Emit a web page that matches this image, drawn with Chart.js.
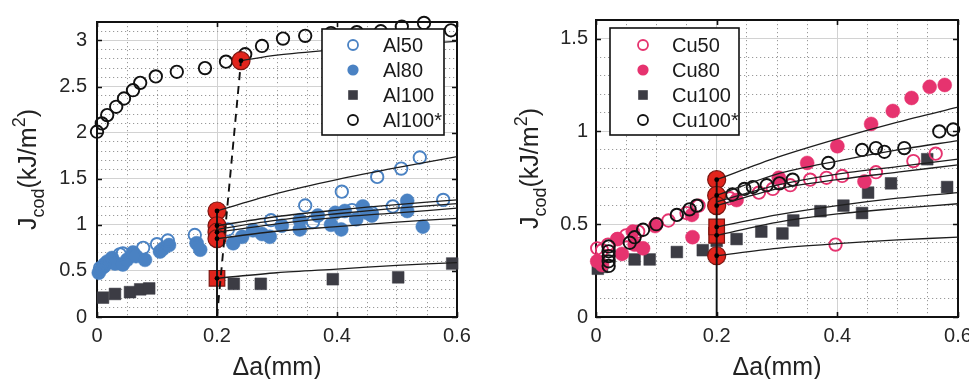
<!DOCTYPE html>
<html><head><meta charset="utf-8">
<script src="https://cdn.jsdelivr.net/npm/chart.js@4.4.1/dist/chart.umd.min.js"></script>
<style>
html,body{margin:0;padding:0;background:#fff;overflow:hidden;width:969px;height:379px;position:relative;}
#wrapL{position:absolute;left:0;top:0;width:484px;height:379px;}
#wrapR{position:absolute;left:484px;top:0;width:500px;height:379px;}
canvas{display:block;}
</style></head><body>
<div id="wrapL"><canvas id="cL" width="484" height="379"></canvas></div>
<div id="wrapR"><canvas id="cR" width="500" height="379"></canvas></div>
<script>
const F = '"Liberation Sans", Arial, Helvetica, sans-serif';

// ---------- tick labels ----------
const xTickValues = [0, 0.2, 0.4, 0.6];
const alYTickValues = [0, 0.5, 1, 1.5, 2, 2.5, 3];
const cuYTickValues = [0, 0.5, 1, 1.5];

// ---------- left panel (Al) ----------
const alLabels = ['Al50', 'Al80', 'Al100', 'Al100*'];
const al50X = [0.005,0.012,0.038,0.043,0.077,0.1,0.118,0.163,0.218,0.29,0.347,0.36,0.408,0.425,0.458,0.467,0.493,0.507,0.538,0.577];
const al50Y = [0.53,0.57,0.68,0.69,0.75,0.79,0.83,0.89,0.95,1.05,1.21,1.03,1.36,1.16,1.13,1.52,1.20,1.61,1.73,1.27];
const al80X = [0.003,0.008,0.012,0.017,0.022,0.025,0.03,0.043,0.05,0.06,0.065,0.08,0.105,0.11,0.12,0.166,0.172,0.227,0.242,0.26,0.275,0.288,0.308,0.338,0.338,0.368,0.39,0.397,0.407,0.413,0.432,0.443,0.45,0.458,0.517,0.517,0.543];
const al80Y = [0.48,0.53,0.55,0.60,0.60,0.64,0.58,0.57,0.62,0.70,0.66,0.62,0.71,0.74,0.78,0.80,0.73,0.80,0.87,0.94,0.90,0.87,0.99,1.05,0.95,1.10,1.00,1.13,0.95,1.15,1.06,1.20,1.13,1.10,1.26,1.15,0.98];
const al100X = [0.01,0.03,0.055,0.072,0.087,0.228,0.273,0.393,0.502,0.592];
const al100Y = [0.21,0.25,0.27,0.30,0.31,0.36,0.36,0.41,0.43,0.58];
const al100sX = [0,0.008,0.017,0.032,0.045,0.06,0.072,0.098,0.133,0.18,0.215,0.247,0.275,0.31,0.347,0.39,0.433,0.473,0.508,0.545,0.59];
const al100sY = [2.01,2.10,2.19,2.28,2.37,2.46,2.54,2.61,2.66,2.70,2.77,2.85,2.94,3.02,3.05,3.08,3.09,3.10,3.15,3.19,3.11];
const alRedCircX = [0.2,0.2,0.2,0.2,0.24];
const alRedCircY = [1.15,0.99,0.92,0.85,2.78];
const alRedSqX = [0.2];
const alRedSqY = [0.42];
const fitX = [0.2,0.3,0.4,0.5,0.6];
const alFit1 = [1.15,1.34,1.49,1.62,1.74];
const alFit2 = [0.99,1.09,1.16,1.22,1.27];
const alFit3 = [0.95,1.05,1.12,1.18,1.23];
const alFit4 = [0.92,1.01,1.08,1.13,1.18];
const alFit5 = [0.85,0.93,0.98,1.03,1.07];
const alFit6 = [0.42,0.48,0.52,0.56,0.59];
const alStarFitX = [0.24,0.3,0.4,0.5,0.6];
const alStarFitY = [2.78,2.84,2.90,2.95,2.99];
const alDashX = [0.2,0.24];
const alDashY = [0,2.78];
const alVertX = [0.2,0.2];
const alVertY = [0,1.15];

// ---------- right panel (Cu) ----------
const cuLabels = ['Cu50', 'Cu80', 'Cu100', 'Cu100*'];
const cu50X = [0.002,0.01,0.02,0.035,0.05,0.07,0.1,0.12,0.15,0.17,0.222,0.27,0.293,0.322,0.355,0.382,0.408,0.397,0.464,0.526,0.563];
const cu50Y = [0.37,0.36,0.39,0.42,0.44,0.46,0.50,0.52,0.56,0.60,0.64,0.67,0.69,0.71,0.74,0.75,0.76,0.39,0.78,0.84,0.88];
const cu80X = [0.002,0.01,0.036,0.043,0.061,0.064,0.078,0.098,0.159,0.16,0.2,0.233,0.303,0.35,0.4,0.445,0.456,0.492,0.523,0.553,0.578];
const cu80Y = [0.30,0.28,0.42,0.34,0.46,0.39,0.37,0.49,0.55,0.43,0.60,0.63,0.75,0.83,0.92,0.73,1.04,1.11,1.18,1.24,1.25];
const cu100X = [0.003,0.005,0.01,0.064,0.089,0.134,0.177,0.2,0.233,0.274,0.309,0.327,0.372,0.41,0.441,0.451,0.489,0.549,0.582];
const cu100Y = [0.26,0.29,0.27,0.31,0.31,0.35,0.36,0.41,0.42,0.46,0.45,0.52,0.57,0.60,0.56,0.67,0.72,0.85,0.70];
const cu100sX = [0.021,0.021,0.021,0.021,0.021,0.056,0.064,0.078,0.1,0.134,0.155,0.167,0.226,0.246,0.26,0.283,0.304,0.326,0.385,0.441,0.464,0.478,0.511,0.569,0.592];
const cu100sY = [0.38,0.354,0.328,0.30,0.275,0.40,0.43,0.47,0.50,0.55,0.58,0.60,0.66,0.69,0.70,0.71,0.72,0.74,0.83,0.90,0.91,0.89,0.91,1.00,1.01];
const cuRedCircX = [0.2,0.2,0.2,0.2];
const cuRedCircY = [0.74,0.655,0.60,0.33];
const cuRedSqX = [0.2,0.2];
const cuRedSqY = [0.44,0.485];
const cuFit1 = [0.74,0.86,0.96,1.05,1.13];
const cuFit2 = [0.655,0.77,0.84,0.90,0.95];
const cuFit3 = [0.62,0.71,0.77,0.81,0.85];
const cuFit4 = [0.60,0.69,0.74,0.78,0.82];
const cuFit5 = [0.485,0.55,0.60,0.64,0.67];
const cuFit6 = [0.44,0.51,0.555,0.585,0.61];
const cuFit7 = [0.33,0.37,0.395,0.415,0.43];
const cuVertX = [0.2,0.2];
const cuVertY = [0,0.74];

// ---------- styles ----------
const BLUE = '#4a82c3', PINK = '#e6336f', DARK = '#3c3c44', RED = '#e2241c';

function pts(xs, ys){ return xs.map((x,i)=>({x:x, y:ys[i]})); }
function openCirc(label, xs, ys, color, order){
  return {label, data: pts(xs,ys), showLine:false, clip:false, order,
    pointStyle:'circle', pointRadius:6.2, pointBorderWidth:1.9,
    pointBackgroundColor:'rgba(255,255,255,0)', pointBorderColor:color, backgroundColor:'rgba(0,0,0,0)', borderColor:color};
}
function fillCirc(label, xs, ys, color, order){
  return {label, data: pts(xs,ys), showLine:false, clip:false, order,
    pointStyle:'circle', pointRadius:7, pointBorderWidth:0.5,
    pointBackgroundColor:color, pointBorderColor:color, backgroundColor:color, borderColor:color};
}
function squares(label, xs, ys, color, order){
  return {label, data: pts(xs,ys), showLine:false, clip:false, order,
    pointStyle:'rect', pointRadius:8.3, pointBorderWidth:0.5,
    pointBackgroundColor:color, pointBorderColor:color, backgroundColor:color, borderColor:color};
}
function redMarks(xs, ys, style, r){
  return {label:'', data: pts(xs,ys), showLine:false, clip:false, order:3,
    pointStyle:style, pointRadius:r, pointBorderWidth:1.2,
    pointBackgroundColor:RED, pointBorderColor:'#7a1510'};
}
function dots(xs, ys){
  return {label:'', data: pts(xs,ys), showLine:false, clip:false, order:1,
    pointStyle:'circle', pointRadius:2.4, pointBorderWidth:0,
    pointBackgroundColor:'#000', pointBorderColor:'#000'};
}
function fitLine(xs, ys, extra){
  return Object.assign({label:'', data: pts(xs,ys), showLine:true, pointRadius:0,
    borderColor:'#1e1e1e', borderWidth:1.3, fill:false, order:2, tension:0.3, clip:false}, extra||{});
}

// ---------- plugins ----------
const boxPlugin = {
  id:'boxTicks',
  beforeDatasetsDraw(chart){
    const {ctx, chartArea:ca} = chart;
    const xs = chart.scales.x, ys = chart.scales.y;
    ctx.save();
    ctx.strokeStyle = '#111'; ctx.lineWidth = 1.6;
    const L = 5;
    ctx.beginPath();
    xs.ticks.forEach(t=>{
      const p = Math.round(xs.getPixelForValue(t.value))+0.5;
      ctx.moveTo(p, ca.bottom); ctx.lineTo(p, ca.bottom-L);
      ctx.moveTo(p, ca.top); ctx.lineTo(p, ca.top+L);
    });
    ys.ticks.forEach(t=>{
      const p = Math.round(ys.getPixelForValue(t.value))+0.5;
      ctx.moveTo(ca.left, p); ctx.lineTo(ca.left+L, p);
      ctx.moveTo(ca.right, p); ctx.lineTo(ca.right-L, p);
    });
    ctx.stroke();
    ctx.lineWidth = 2;
    ctx.strokeRect(ca.left, ca.top, ca.right-ca.left, ca.bottom-ca.top);
    ctx.restore();
  }
};
const yTitlePlugin = {
  id:'yTitle',
  afterDraw(chart, args, o){
    const {ctx, chartArea:ca} = chart;
    const parts = [
      {t:'J', s:o.size, dy:0},
      {t:'cod', s:o.sub, dy:o.subDy},
      {t:'(kJ/m', s:o.size, dy:0},
      {t:'2', s:o.sub, dy:-o.supDy},
      {t:')', s:o.size, dy:0}
    ];
    ctx.save();
    ctx.translate(o.x, (ca.top+ca.bottom)/2 + (o.shift||0));
    ctx.rotate(-Math.PI/2);
    ctx.fillStyle = '#222'; ctx.textBaseline = 'alphabetic'; ctx.textAlign = 'left';
    let total = 0;
    parts.forEach(p=>{ ctx.font = p.s+'px '+F; p.w = ctx.measureText(p.t).width; total += p.w; });
    let x = -total/2;
    parts.forEach(p=>{ ctx.font = p.s+'px '+F; ctx.fillText(p.t, x, p.dy); x += p.w; });
    ctx.restore();
  }
};
const boxLegendPlugin = {
  id:'boxLegend',
  afterDraw(chart, args, o){
    const ctx = chart.ctx;
    ctx.save();
    ctx.fillStyle = '#fff';
    ctx.fillRect(o.left, o.top, o.width, o.height);
    ctx.strokeStyle = '#111'; ctx.lineWidth = 1.6;
    ctx.strokeRect(o.left, o.top, o.width, o.height);
    o.items.forEach((it, i)=>{
      const y = o.row0 + i*o.rowDy;
      const x = o.markerX;
      ctx.beginPath();
      if (it.kind === 'open'){
        ctx.arc(x, y, 5, 0, Math.PI*2);
        ctx.lineWidth = 1.8; ctx.strokeStyle = it.color; ctx.stroke();
      } else if (it.kind === 'fill'){
        ctx.arc(x, y, 5.6, 0, Math.PI*2);
        ctx.fillStyle = it.color; ctx.fill();
      } else {
        ctx.fillStyle = it.color; ctx.fillRect(x-4.8, y-4.8, 9.6, 9.6);
      }
      ctx.fillStyle = '#1a1a1a';
      ctx.font = o.fontSize+'px '+F;
      ctx.textBaseline = 'middle'; ctx.textAlign = 'left';
      ctx.fillText(it.label, o.textX, y+1);
    });
    ctx.restore();
  }
};

function makeChart(canvasId, p){
  const minorColorX = ctx => {
    const v = ctx.tick ? ctx.tick.value : 0;
    const r = v/0.2; return Math.abs(r-Math.round(r))<1e-6 ? 'rgba(0,0,0,0)' : '#999';
  };
  const minorColorY = ctx => {
    const v = ctx.tick ? ctx.tick.value : 0;
    const r = v/0.5; return Math.abs(r-Math.round(r))<1e-6 ? 'rgba(0,0,0,0)' : '#999';
  };
  return new Chart(document.getElementById(canvasId), {
    type:'scatter',
    data:{datasets:p.datasets},
    options:{
      responsive:false, animation:false, events:[],
      layout:{padding:{top:15, right:p.padRight, bottom:0, left:0}},
      plugins:{
        legend:{display:false}, tooltip:{enabled:false},
        yTitle:{x:p.yTitleX, size:25, sub:18, subDy:8, supDy:11},
        boxLegend:p.legend
      },
      scales:{
        x:{type:'linear', position:'bottom', min:0, max:0.6, bounds:'data',
          afterBuildTicks: s => { s.ticks = xTickValues.map(v=>({value:v})); },
          ticks:{padding:7, color:'#262626', font:{size:20, family:F}, maxRotation:0, autoSkip:false,
            callback: v => String(v)},
          grid:{color:'#d2d2d2', lineWidth:1, drawTicks:false},
          border:{display:false},
          title:{display:true, text:'Δa(mm)', color:'#222', font:{size:25, family:F}, padding:{top:0, bottom:-4}},
          afterFit: s => { s.height = 62; }
        },
        xm:{type:'linear', position:'bottom', min:0, max:0.6, bounds:'data',
          ticks:{display:false, stepSize:0.05},
          grid:{color:minorColorX, lineWidth:1, drawTicks:false},
          border:{display:false, dash:[1.2,2.8]},
          afterFit: s => { s.height = 0; }
        },
        y:{type:'linear', position:'left', min:0, max:p.yMax, bounds:'data',
          afterBuildTicks: s => { s.ticks = p.yTicks.map(v=>({value:v})); },
          ticks:{padding:p.yPad, color:'#262626', font:{size:20, family:F}, autoSkip:false,
            callback: v => String(v)},
          grid:{color:'#d2d2d2', lineWidth:1, drawTicks:false},
          border:{display:false},
          afterFit: s => { s.width = p.yWidth; }
        },
        ym:{type:'linear', position:'left', min:0, max:p.yMax, bounds:'data',
          ticks:{display:false, stepSize:0.1},
          grid:{color:minorColorY, lineWidth:1, drawTicks:false},
          border:{display:false, dash:[1.2,2.8]},
          afterFit: s => { s.width = 0; }
        }
      }
    },
    plugins:[boxPlugin, yTitlePlugin, boxLegendPlugin]
  });
}

makeChart('cL', {
  yMax:3.2, yTicks:alYTickValues, yWidth:97, yPad:10, padRight:27, yTitleX:36,
  legend:{left:322, top:29, width:122, height:106, markerX:353, textX:383, row0:45, rowDy:25, fontSize:20,
    items:[{label:alLabels[0], kind:'open', color:BLUE},{label:alLabels[1], kind:'fill', color:BLUE},
           {label:alLabels[2], kind:'sq', color:DARK},{label:alLabels[3], kind:'open', color:'#111'}]},
  datasets:[
    fillCirc(alLabels[1], al80X, al80Y, BLUE, 13),
    openCirc(alLabels[0], al50X, al50Y, BLUE, 12),
    squares(alLabels[2], al100X, al100Y, DARK, 11),
    openCirc(alLabels[3], al100sX, al100sY, '#111', 10),
    redMarks(alRedCircX, alRedCircY, 'circle', 9),
    redMarks(alRedSqX, alRedSqY, 'rect', 11),
    fitLine(fitX, alFit1), fitLine(fitX, alFit2), fitLine(fitX, alFit3),
    fitLine(fitX, alFit4), fitLine(fitX, alFit5), fitLine(fitX, alFit6),
    fitLine(alStarFitX, alStarFitY),
    fitLine(alDashX, alDashY, {borderDash:[8,6], borderWidth:1.9, tension:0, borderColor:'#111'}),
    fitLine(alVertX, alVertY, {borderWidth:1.9, tension:0, borderColor:'#111'}),
    dots(alRedCircX, alRedCircY), dots(alRedSqX, alRedSqY)
  ]
});

makeChart('cR', {
  yMax:1.6, yTicks:cuYTickValues, yWidth:112, yPad:8, padRight:26, yTitleX:54,
  legend:{left:126, top:28, width:129, height:107, markerX:159, textX:188, row0:45, rowDy:25, fontSize:20,
    items:[{label:cuLabels[0], kind:'open', color:PINK},{label:cuLabels[1], kind:'fill', color:PINK},
           {label:cuLabels[2], kind:'sq', color:DARK},{label:cuLabels[3], kind:'open', color:'#111'}]},
  datasets:[
    squares(cuLabels[2], cu100X, cu100Y, DARK, 14),
    fillCirc(cuLabels[1], cu80X, cu80Y, PINK, 13),
    openCirc(cuLabels[0], cu50X, cu50Y, PINK, 12),
    openCirc(cuLabels[3], cu100sX, cu100sY, '#111', 11),
    redMarks(cuRedCircX, cuRedCircY, 'circle', 9),
    redMarks(cuRedSqX, cuRedSqY, 'rect', 11),
    fitLine(fitX, cuFit1), fitLine(fitX, cuFit2), fitLine(fitX, cuFit3), fitLine(fitX, cuFit4),
    fitLine(fitX, cuFit5), fitLine(fitX, cuFit6), fitLine(fitX, cuFit7),
    fitLine(cuVertX, cuVertY, {borderWidth:1.9, tension:0, borderColor:'#111'}),
    dots(cuRedCircX, cuRedCircY), dots(cuRedSqX, cuRedSqY)
  ]
});
</script>
</body></html>
